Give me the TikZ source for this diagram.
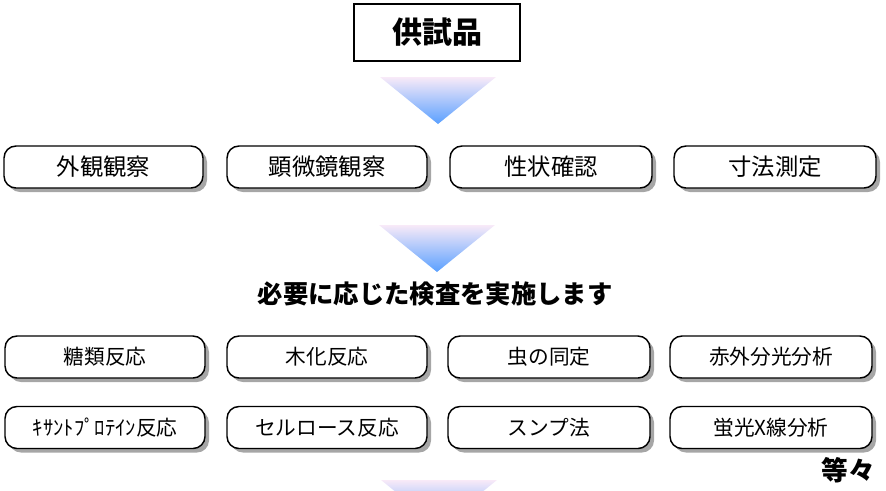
\documentclass[tikz,border=0pt]{standalone}
\usepackage{fontspec}
\newfontfamily\cjk{Noto Sans CJK JP}
\usetikzlibrary{shadows}
\definecolor{toppink}{RGB}{248,234,248}
\definecolor{botblue}{RGB}{90,160,255}
\tikzset{
  itembox/.style={draw=black, line width=1.1pt, rounded corners=9pt, fill=white,
    inner sep=0pt,
    font=\cjk\fontsize{17.5}{17.5}\selectfont,
    drop shadow={shadow xshift=3pt, shadow yshift=-3pt, fill=black!35, opacity=1}},
  smallbox/.style={itembox, font=\cjk\fontsize{15.5}{15.5}\selectfont},
  titlebox/.style={draw=black, line width=1.3pt, fill=white,
    inner sep=0pt, font=\cjk\bfseries\fontsize{22.5}{22.5}\selectfont},
  headtext/.style={inner sep=0pt, font=\cjk\bfseries\fontsize{19}{19}\selectfont},
}
\newcommand{\downarrowshade}[2]{%
  \shade[top color=toppink, bottom color=botblue] (#1-58,#2) -- (#1+58,#2) -- (#1,#2+47) -- cycle;}
\begin{document}
\begin{tikzpicture}[x=0.75pt,y=-0.75pt]
\useasboundingbox (0,0) rectangle (886,490);
\clip (0,0) rectangle (886,490);
\node[titlebox, minimum width=166*0.75pt, minimum height=57*0.75pt] (title) at (437,32.5) {供試品};
\downarrowshade{438}{77}
% row 1
\node[itembox, minimum width=199*0.75pt, minimum height=42*0.75pt] (a1) at (103.5,167) {外観観察};
\node[itembox, minimum width=200*0.75pt, minimum height=42*0.75pt] (a2) at (327,167) {顕微鏡観察};
\node[itembox, minimum width=202*0.75pt, minimum height=42*0.75pt] (a3) at (551,167) {性状確認};
\node[itembox, minimum width=202*0.75pt, minimum height=42*0.75pt] (a4) at (775,167) {寸法測定};
\downarrowshade{437}{225}
\node[headtext] (head) at (435,294) {必要に応じた検査を実施します};
% row 2
\node[smallbox, minimum width=200*0.75pt, minimum height=42*0.75pt] (b1) at (105,357) {糖類反応};
\node[smallbox, minimum width=200*0.75pt, minimum height=42*0.75pt] (b2) at (327,357) {木化反応};
\node[smallbox, minimum width=202*0.75pt, minimum height=42*0.75pt] (b3) at (549,357) {虫の同定};
\node[smallbox, minimum width=202*0.75pt, minimum height=42*0.75pt] (b4) at (771,357) {赤外分光分析};
% row 3
\node[smallbox, minimum width=200*0.75pt, minimum height=42*0.75pt] (c1) at (105,427.5) {ｷｻﾝﾄﾌﾟﾛﾃｲﾝ反応};
\node[smallbox, minimum width=200*0.75pt, minimum height=42*0.75pt] (c2) at (327,427.5) {セルロース反応};
\node[smallbox, minimum width=202*0.75pt, minimum height=42*0.75pt] (c3) at (549,427.5) {スンプ法};
\node[smallbox, minimum width=202*0.75pt, minimum height=42*0.75pt] (c4) at (771,427.5) {蛍光X線分析};
\node[headtext, font=\cjk\bfseries\fontsize{20}{20}\selectfont] (etc) at (848,470) {等々};
\downarrowshade{439}{480}
\end{tikzpicture}
\end{document}
